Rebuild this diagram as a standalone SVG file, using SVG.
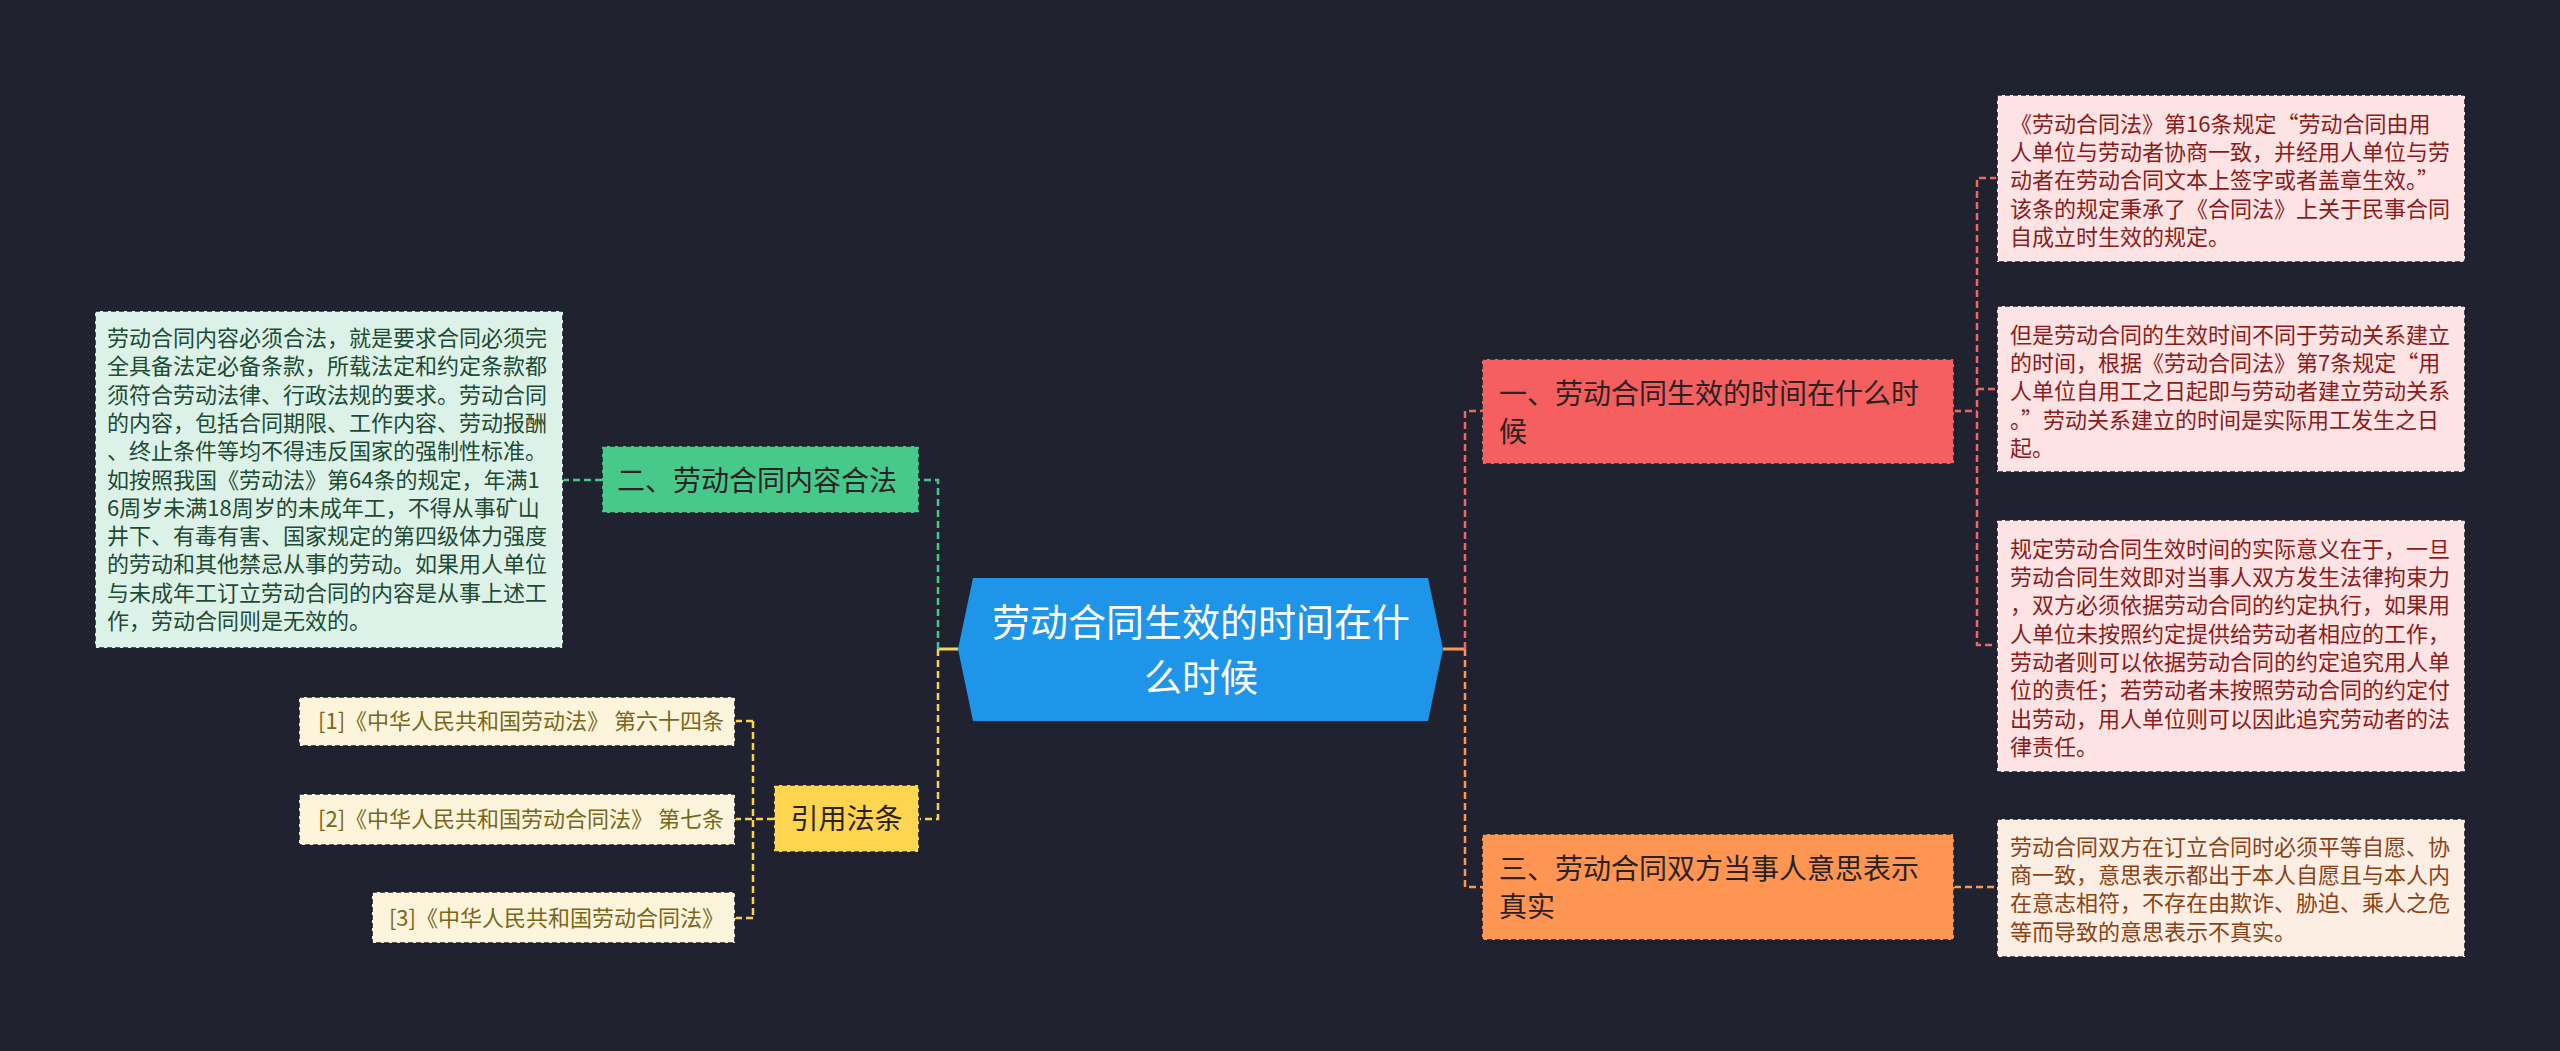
<svg xmlns="http://www.w3.org/2000/svg" width="2560" height="1051" viewBox="0 0 2560 1051">
<style>
text{font-family:"Noto Sans CJK SC","Noto Sans",sans-serif;}
.c{fill:none;stroke-width:2.5;stroke-dasharray:7 4;}
.s{fill:none;stroke-width:3;}
.nb{stroke:#1d1f28;stroke-width:1.6;stroke-dasharray:5 3;}
.t28{font-size:28px;fill:#2b2222;}
.t22{font-size:22px;}
.g{stroke:#45c88c;}
.y{stroke:#f7d254;}
.r{stroke:#e8696b;}
.o{stroke:#fb9655;}
</style>
<rect width="2560" height="1051" fill="#20232f"/>
<g id="connectors">
<line class="s y" x1="958" y1="649" x2="938" y2="649"/>
<path class="c g" d="M938 649 V480 H919"/>
<path class="c y" d="M938 649 V819 H919"/>
<path class="c g" d="M602 480 H563"/>
<path class="c y" d="M774 819 H735"/>
<path class="c y" d="M753 721 H735 M753 721 V918 M753 918 H735"/>
<line class="s o" x1="1443" y1="649" x2="1465" y2="649"/>
<path class="c r" d="M1465 649 V411 H1482"/>
<path class="c o" d="M1465 649 V887 H1482"/>
<path class="c r" d="M1954 411 H1977"/>
<path class="c r" d="M1997 178 H1977 V645 H1997 M1977 389 H1997"/>
<path class="c o" d="M1954 887 H1997"/>
</g>
<g id="center">
<polygon points="973,578 1428,578 1443,649 1428,721 973,721 958,649" fill="#1e95e9"/>
<text x="1201" y="636" text-anchor="middle" font-size="38" fill="#ffffff">劳动合同生效的时间在什</text>
<text x="1201" y="691" text-anchor="middle" font-size="38" fill="#ffffff">么时候</text>
</g>
<g id="n2">
<rect class="nb" x="602" y="446" width="317" height="67" fill="#48c98c"/>
<text class="t28" x="617" y="491" fill="#1e2b26">二、劳动合同内容合法</text>
</g>
<g id="n2a">
<rect class="nb" x="95" y="311" width="468" height="337" fill="#dcf2e8"/>
<text class="t22" fill="#1f4a33">
<tspan x="107" y="346">劳动合同内容必须合法，就是要求合同必须完</tspan>
<tspan x="107" y="374.3">全具备法定必备条款，所载法定和约定条款都</tspan>
<tspan x="107" y="402.6">须符合劳动法律、行政法规的要求。劳动合同</tspan>
<tspan x="107" y="430.9">的内容，包括合同期限、工作内容、劳动报酬</tspan>
<tspan x="107" y="459.2">、终止条件等均不得违反国家的强制性标准。</tspan>
<tspan x="107" y="487.5">如按照我国《劳动法》第64条的规定，年满1</tspan>
<tspan x="107" y="515.8">6周岁未满18周岁的未成年工，不得从事矿山</tspan>
<tspan x="107" y="544.1">井下、有毒有害、国家规定的第四级体力强度</tspan>
<tspan x="107" y="572.4">的劳动和其他禁忌从事的劳动。如果用人单位</tspan>
<tspan x="107" y="600.7">与未成年工订立劳动合同的内容是从事上述工</tspan>
<tspan x="107" y="629">作，劳动合同则是无效的。</tspan>
</text>
</g>
<g id="ref">
<rect class="nb" x="774" y="785" width="145" height="67" fill="#fdd54f"/>
<text class="t28" x="846.5" y="829" text-anchor="middle" fill="#2b2616">引用法条</text>
</g>
<g id="ref1">
<rect class="nb" x="299" y="697" width="436" height="49" fill="#fcf5dc"/>
<text class="t22" x="724" y="729" text-anchor="end" fill="#7a661a">[1]《中华人民共和国劳动法》 第六十四条</text>
</g>
<g id="ref2">
<rect class="nb" x="299" y="794" width="436" height="51" fill="#fcf5dc"/>
<text class="t22" x="724" y="827" text-anchor="end" fill="#7a661a">[2]《中华人民共和国劳动合同法》 第七条</text>
</g>
<g id="ref3">
<rect class="nb" x="372" y="892" width="363" height="51" fill="#fcf5dc"/>
<text class="t22" x="724" y="926" text-anchor="end" fill="#7a661a">[3]《中华人民共和国劳动合同法》</text>
</g>
<g id="n1">
<rect class="nb" x="1482" y="359" width="472" height="105" fill="#f55f5f"/>
<text class="t28" fill="#2d1b1b"><tspan x="1499" y="404">一、劳动合同生效的时间在什么时</tspan><tspan x="1499" y="442">候</tspan></text>
</g>
<g id="n3">
<rect class="nb" x="1482" y="834" width="472" height="106" fill="#fe9552"/>
<text class="t28" fill="#2d2016"><tspan x="1499" y="879">三、劳动合同双方当事人意思表示</tspan><tspan x="1499" y="917">真实</tspan></text>
</g>
<g id="n1a">
<rect class="nb" x="1997" y="95" width="468" height="167" fill="#fde3e3"/>
<text class="t22" fill="#8a1c1c">
<tspan x="2010" y="131.7">《劳动合同法》第16条规定“劳动合同由用</tspan>
<tspan x="2010" y="160">人单位与劳动者协商一致，并经用人单位与劳</tspan>
<tspan x="2010" y="188.3">动者在劳动合同文本上签字或者盖章生效。”</tspan>
<tspan x="2010" y="216.6">该条的规定秉承了《合同法》上关于民事合同</tspan>
<tspan x="2010" y="244.9">自成立时生效的规定。</tspan>
</text>
</g>
<g id="n1b">
<rect class="nb" x="1997" y="306" width="468" height="166" fill="#fde3e3"/>
<text class="t22" fill="#8a1c1c">
<tspan x="2010" y="342.7">但是劳动合同的生效时间不同于劳动关系建立</tspan>
<tspan x="2010" y="371">的时间，根据《劳动合同法》第7条规定“用</tspan>
<tspan x="2010" y="399.3">人单位自用工之日起即与劳动者建立劳动关系</tspan>
<tspan x="2010" y="427.6">。”劳动关系建立的时间是实际用工发生之日</tspan>
<tspan x="2010" y="455.9">起。</tspan>
</text>
</g>
<g id="n1c">
<rect class="nb" x="1997" y="520" width="468" height="252" fill="#fde3e3"/>
<text class="t22" fill="#8a1c1c">
<tspan x="2010" y="556.7">规定劳动合同生效时间的实际意义在于，一旦</tspan>
<tspan x="2010" y="585">劳动合同生效即对当事人双方发生法律拘束力</tspan>
<tspan x="2010" y="613.3">，双方必须依据劳动合同的约定执行，如果用</tspan>
<tspan x="2010" y="641.6">人单位未按照约定提供给劳动者相应的工作，</tspan>
<tspan x="2010" y="669.9">劳动者则可以依据劳动合同的约定追究用人单</tspan>
<tspan x="2010" y="698.2">位的责任；若劳动者未按照劳动合同的约定付</tspan>
<tspan x="2010" y="726.5">出劳动，用人单位则可以因此追究劳动者的法</tspan>
<tspan x="2010" y="754.8">律责任。</tspan>
</text>
</g>
<g id="n3a">
<rect class="nb" x="1997" y="819" width="468" height="138" fill="#fdeee4"/>
<text class="t22" fill="#8a4316">
<tspan x="2010" y="854.7">劳动合同双方在订立合同时必须平等自愿、协</tspan>
<tspan x="2010" y="883">商一致，意思表示都出于本人自愿且与本人内</tspan>
<tspan x="2010" y="911.3">在意志相符，不存在由欺诈、胁迫、乘人之危</tspan>
<tspan x="2010" y="939.6">等而导致的意思表示不真实。</tspan>
</text>
</g>
</svg>
